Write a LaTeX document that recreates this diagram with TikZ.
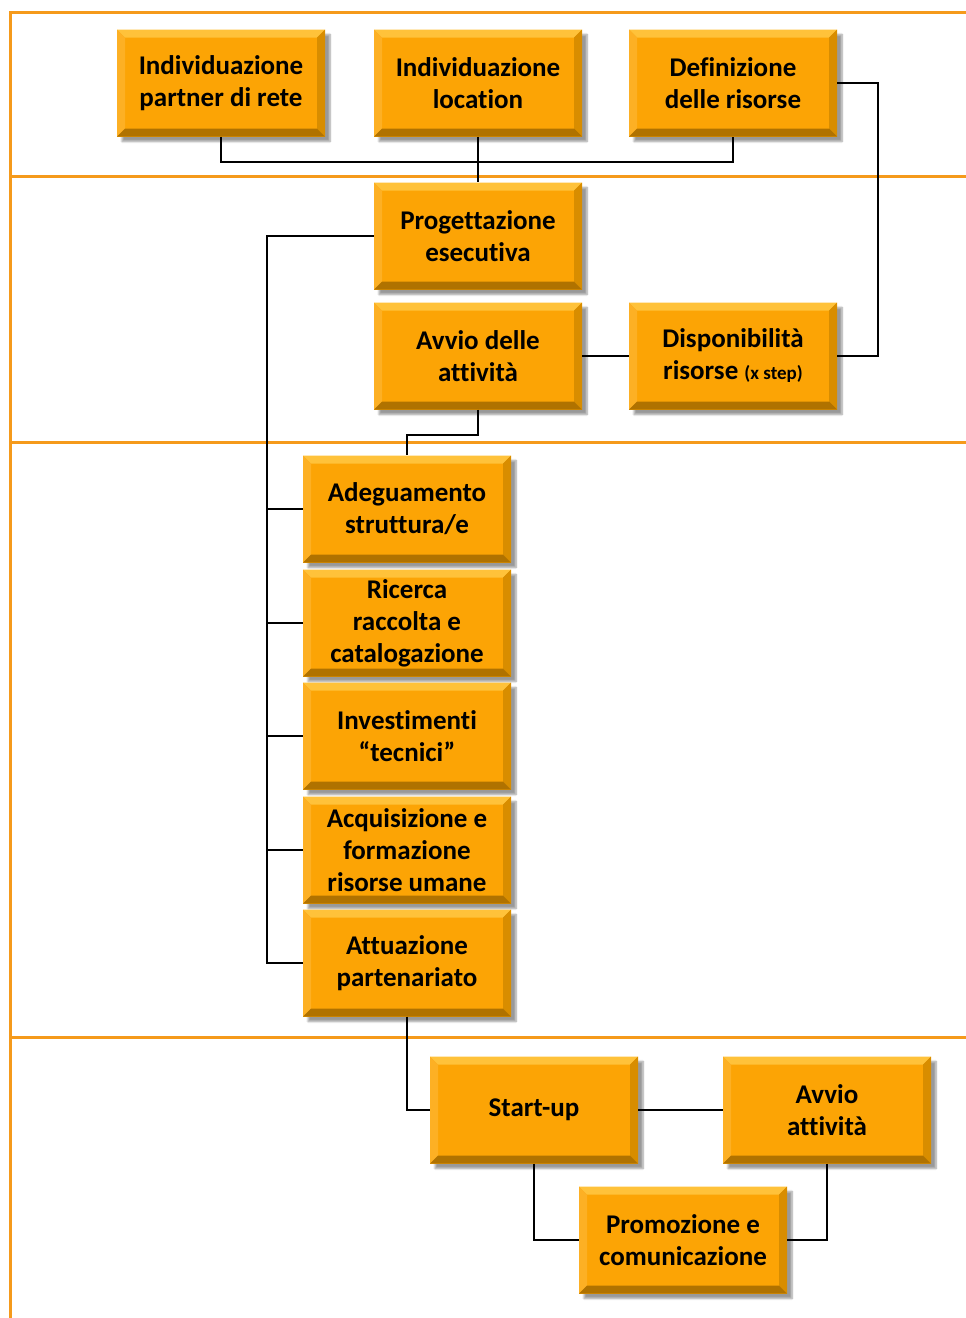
\documentclass[tikz,border=0pt]{standalone}
\usepackage{fontspec}
\setmainfont{Carlito}[Ligatures=NoCommon]
\usepackage{tikz}
\usetikzlibrary{positioning,calc,shadows.blur}
\definecolor{frame}{HTML}{F59A1B}
\definecolor{boxfill}{HTML}{FCA405}
\definecolor{bevtop}{HTML}{FFC23A}
\definecolor{bevleft}{HTML}{FDB024}
\definecolor{bevright}{HTML}{D88D00}
\definecolor{bevbot}{HTML}{B07200}
\tikzset{
  box/.style={rectangle,fill=boxfill,minimum width=208,minimum height=107,
    align=center,inner sep=2pt,font=\fontsize{27}{32}\selectfont\bfseries,
    blur shadow={shadow xshift=5pt,shadow yshift=-5pt,shadow opacity=40,shadow blur steps=6},
    path picture={
      \coordinate (nw) at (path picture bounding box.north west);
      \coordinate (se) at (path picture bounding box.south east);
      \fill[bevtop] (nw) -- (nw -| se) -- ($(nw -| se)+(-8,8)$) -- ($(nw)+(8,8)$) -- cycle;
      \fill[bevleft] (nw) -- (nw |- se) -- ($(nw |- se)+(8,-8)$) -- ($(nw)+(8,8)$) -- cycle;
      \fill[bevright] (se) -- (nw -| se) -- ($(nw -| se)+(-8,8)$) -- ($(se)+(-8,-8)$) -- cycle;
      \fill[bevbot] (se) -- (nw |- se) -- ($(nw |- se)+(8,-8)$) -- ($(se)+(-8,-8)$) -- cycle;
    }},
  link/.style={draw=black,line width=1.6pt},
  band/.style={draw=frame,line width=3pt}
}

\begin{document}
\begin{tikzpicture}[x=1pt,y=-1pt]
  \useasboundingbox (0,0) rectangle (966,1318);
  % orange frame
  \draw[band] (10,1318) -- (10,12) -- (966,12);
  \foreach \y in {176,442,1037}
    \draw[band] (10,\y) -- (966,\y);

  % top row
  \node[box] (partner) at (221,83) {Individuazione\\partner di rete};
  \node[box] (location) at (478,83) {Individuazione\\location};
  \node[box] (defris) at (733,83) {Definizione\\delle risorse};

  % second band
  \node[box] (prog) at (478,236) {Progettazione\\esecutiva};
  \node[box] (avvio) at (478,356) {Avvio delle\\attività};
  \node[box] (disp) at (733,356) {Disponibilità\\risorse {\fontsize{19}{20}\selectfont(x step)}};

  % column of activities
  \foreach \name/\y/\txt in {
    adeg/509/{Adeguamento\\struttura/e},
    ricerca/623/{Ricerca\\raccolta e\\catalogazione},
    invest/736/{Investimenti\\“tecnici”},
    acquis/850/{Acquisizione e\\formazione\\risorse umane},
    attuaz/963/{Attuazione\\partenariato}}
    \node[box] (\name) at (407,\y) {\txt};

  % last band
  \node[box] (startup) at (534,1110) {Start-up};
  \node[box] (avvioatt) at (827,1110) {Avvio\\attività};
  \node[box] (promo) at (683,1240) {Promozione e\\comunicazione};

  % connectors
  \draw[link] (partner.south) -- ++(0,25) -| (defris.south);
  \draw[link] (location.south) -- (prog.north);
  \draw[link] (defris.east) -- ++(41,0) |- (disp.east);
  \draw[link] (avvio.east) -- (disp.west);
  \draw[link] (prog.west) -- ++(-107,0) coordinate (bus) |- (attuaz.west);
  \foreach \name in {adeg,ricerca,invest,acquis}
    \draw[link] (\name.west) -- (\name.west -| bus);
  \draw[link] (avvio.south) -- ++(0,25) -| (adeg.north);
  \draw[link] (attuaz.south) |- (startup.west);
  \draw[link] (startup.east) -- (avvioatt.west);
  \draw[link] (startup.south) |- (promo.west);
  \draw[link] (avvioatt.south) |- (promo.east);
\end{tikzpicture}
\end{document}
